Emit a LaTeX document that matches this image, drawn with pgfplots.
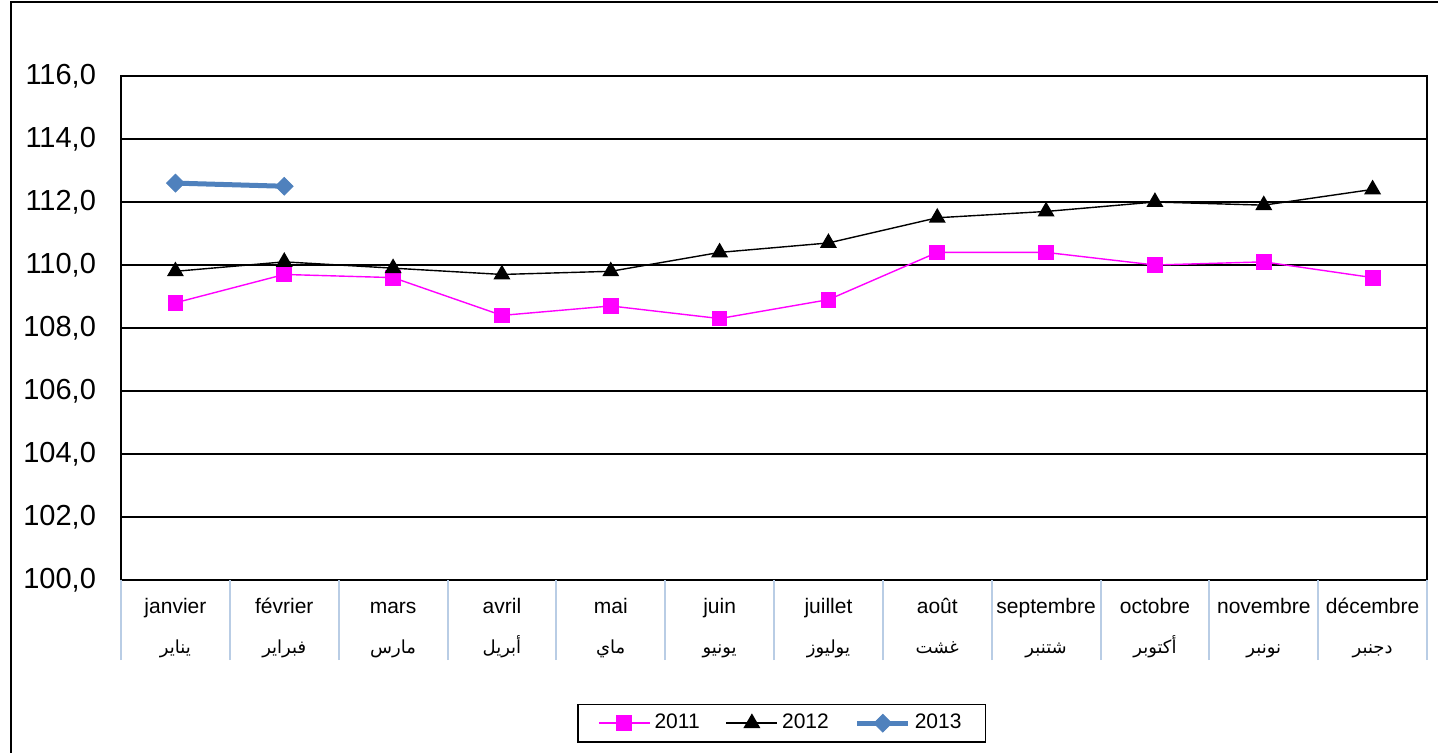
\documentclass[border=0pt]{standalone}
\usepackage{pgfplots}
\pgfplotsset{compat=1.18}
\usepackage{fontspec}
\setmainfont{Liberation Sans}
\newfontfamily\arabicfont[Script=Arabic]{DejaVu Sans}
\TeXXeTstate=1
\newcommand\ar[1]{{\arabicfont\fontsize{9}{9}\selectfont\beginR #1\endR}}
\definecolor{c2011}{HTML}{FF00FF}
\definecolor{c2013}{HTML}{4F81BD}
\definecolor{sepc}{HTML}{B9CDE5}
\begin{document}
\begin{tikzpicture}
\useasboundingbox (0,0) rectangle (719pt,376pt);
\draw[line width=1pt] (5.5pt,-10pt) -- (5.5pt,375pt) -- (730pt,375pt);
\begin{axis}[
  at={(60.5pt,86pt)}, anchor=south west,
  width=653pt, height=252pt, scale only axis,
  xmin=0.5, xmax=12.5, ymin=100, ymax=116,
  ytick={100,102,104,106,108,110,112,114,116},
  ymajorgrids, grid style={black, line width=0.6pt},
  axis line style={black, line width=0.6pt},
  major tick length=0pt,
  xtick pos=left, ytick pos=left,
  y tick label style={/pgf/number format/.cd, fixed, fixed zerofill, precision=1, use comma, assume math mode=true, /tikz/.cd, font=\fontsize{14.5}{14.5}\selectfont, xshift=-9pt},
  xtick={1,2,3,4,5,6,7,8,9,10,11,12},
  xticklabels={
    {\strut janvier\\\ar{يناير}},
    {\strut février\\\ar{فبراير}},
    {\strut mars\\\ar{مارس}},
    {\strut avril\\\ar{أبريل}},
    {\strut mai\\\ar{ماي}},
    {\strut juin\\\ar{يونيو}},
    {\strut juillet\\\ar{يوليوز}},
    {\strut août\\\ar{غشت}},
    {\strut septembre\\\ar{شتنبر}},
    {\strut octobre\\\ar{أكتوبر}},
    {\strut novembre\\\ar{نونبر}},
    {\strut décembre\\\ar{دجنبر}}},
  xticklabel style={align=center, font=\fontsize{10.5}{20}\selectfont, yshift=1pt},
  extra x ticks={0.5,1.5,2.5,3.5,4.5,5.5,6.5,7.5,8.5,9.5,10.5,11.5,12.5},
  extra x tick labels={},
  extra x tick style={tick align=outside, major tick length=40pt, tick style={sepc, line width=1pt}},
  legend style={at={(0.506,-0.284)}, anchor=center, draw=black, line width=0.8pt,
    font=\fontsize{10.5}{12}\selectfont, legend columns=3, inner xsep=10pt, inner ysep=3pt,
    /tikz/every even column/.append style={column sep=11pt}},
  legend image code/.code={\draw[mark repeat=2,mark phase=2,#1] plot coordinates {(0pt,0pt) (12.75pt,0pt) (25.5pt,0pt)};},
]
\addplot[c2011, line width=0.7pt, mark=square*, mark size=3.6pt, mark options={solid}] coordinates {
(1,108.8) (2,109.7) (3,109.6) (4,108.4) (5,108.7) (6,108.3) (7,108.9) (8,110.4) (9,110.4) (10,110.0) (11,110.1) (12,109.6)};
\addlegendentry{2011}
\addplot[black, line width=0.7pt, mark=triangle*, mark size=4.2pt, mark options={solid}] coordinates {
(1,109.8) (2,110.1) (3,109.9) (4,109.7) (5,109.8) (6,110.4) (7,110.7) (8,111.5) (9,111.7) (10,112.0) (11,111.9) (12,112.4)};
\addlegendentry{2012}
\addplot[c2013, line width=2.5pt, mark=square*, mark size=3.2pt, mark options={rotate=45, line width=0.3pt}] coordinates {
(1,112.6) (2,112.5)};
\addlegendentry{2013}
\end{axis}
\end{tikzpicture}
\end{document}
